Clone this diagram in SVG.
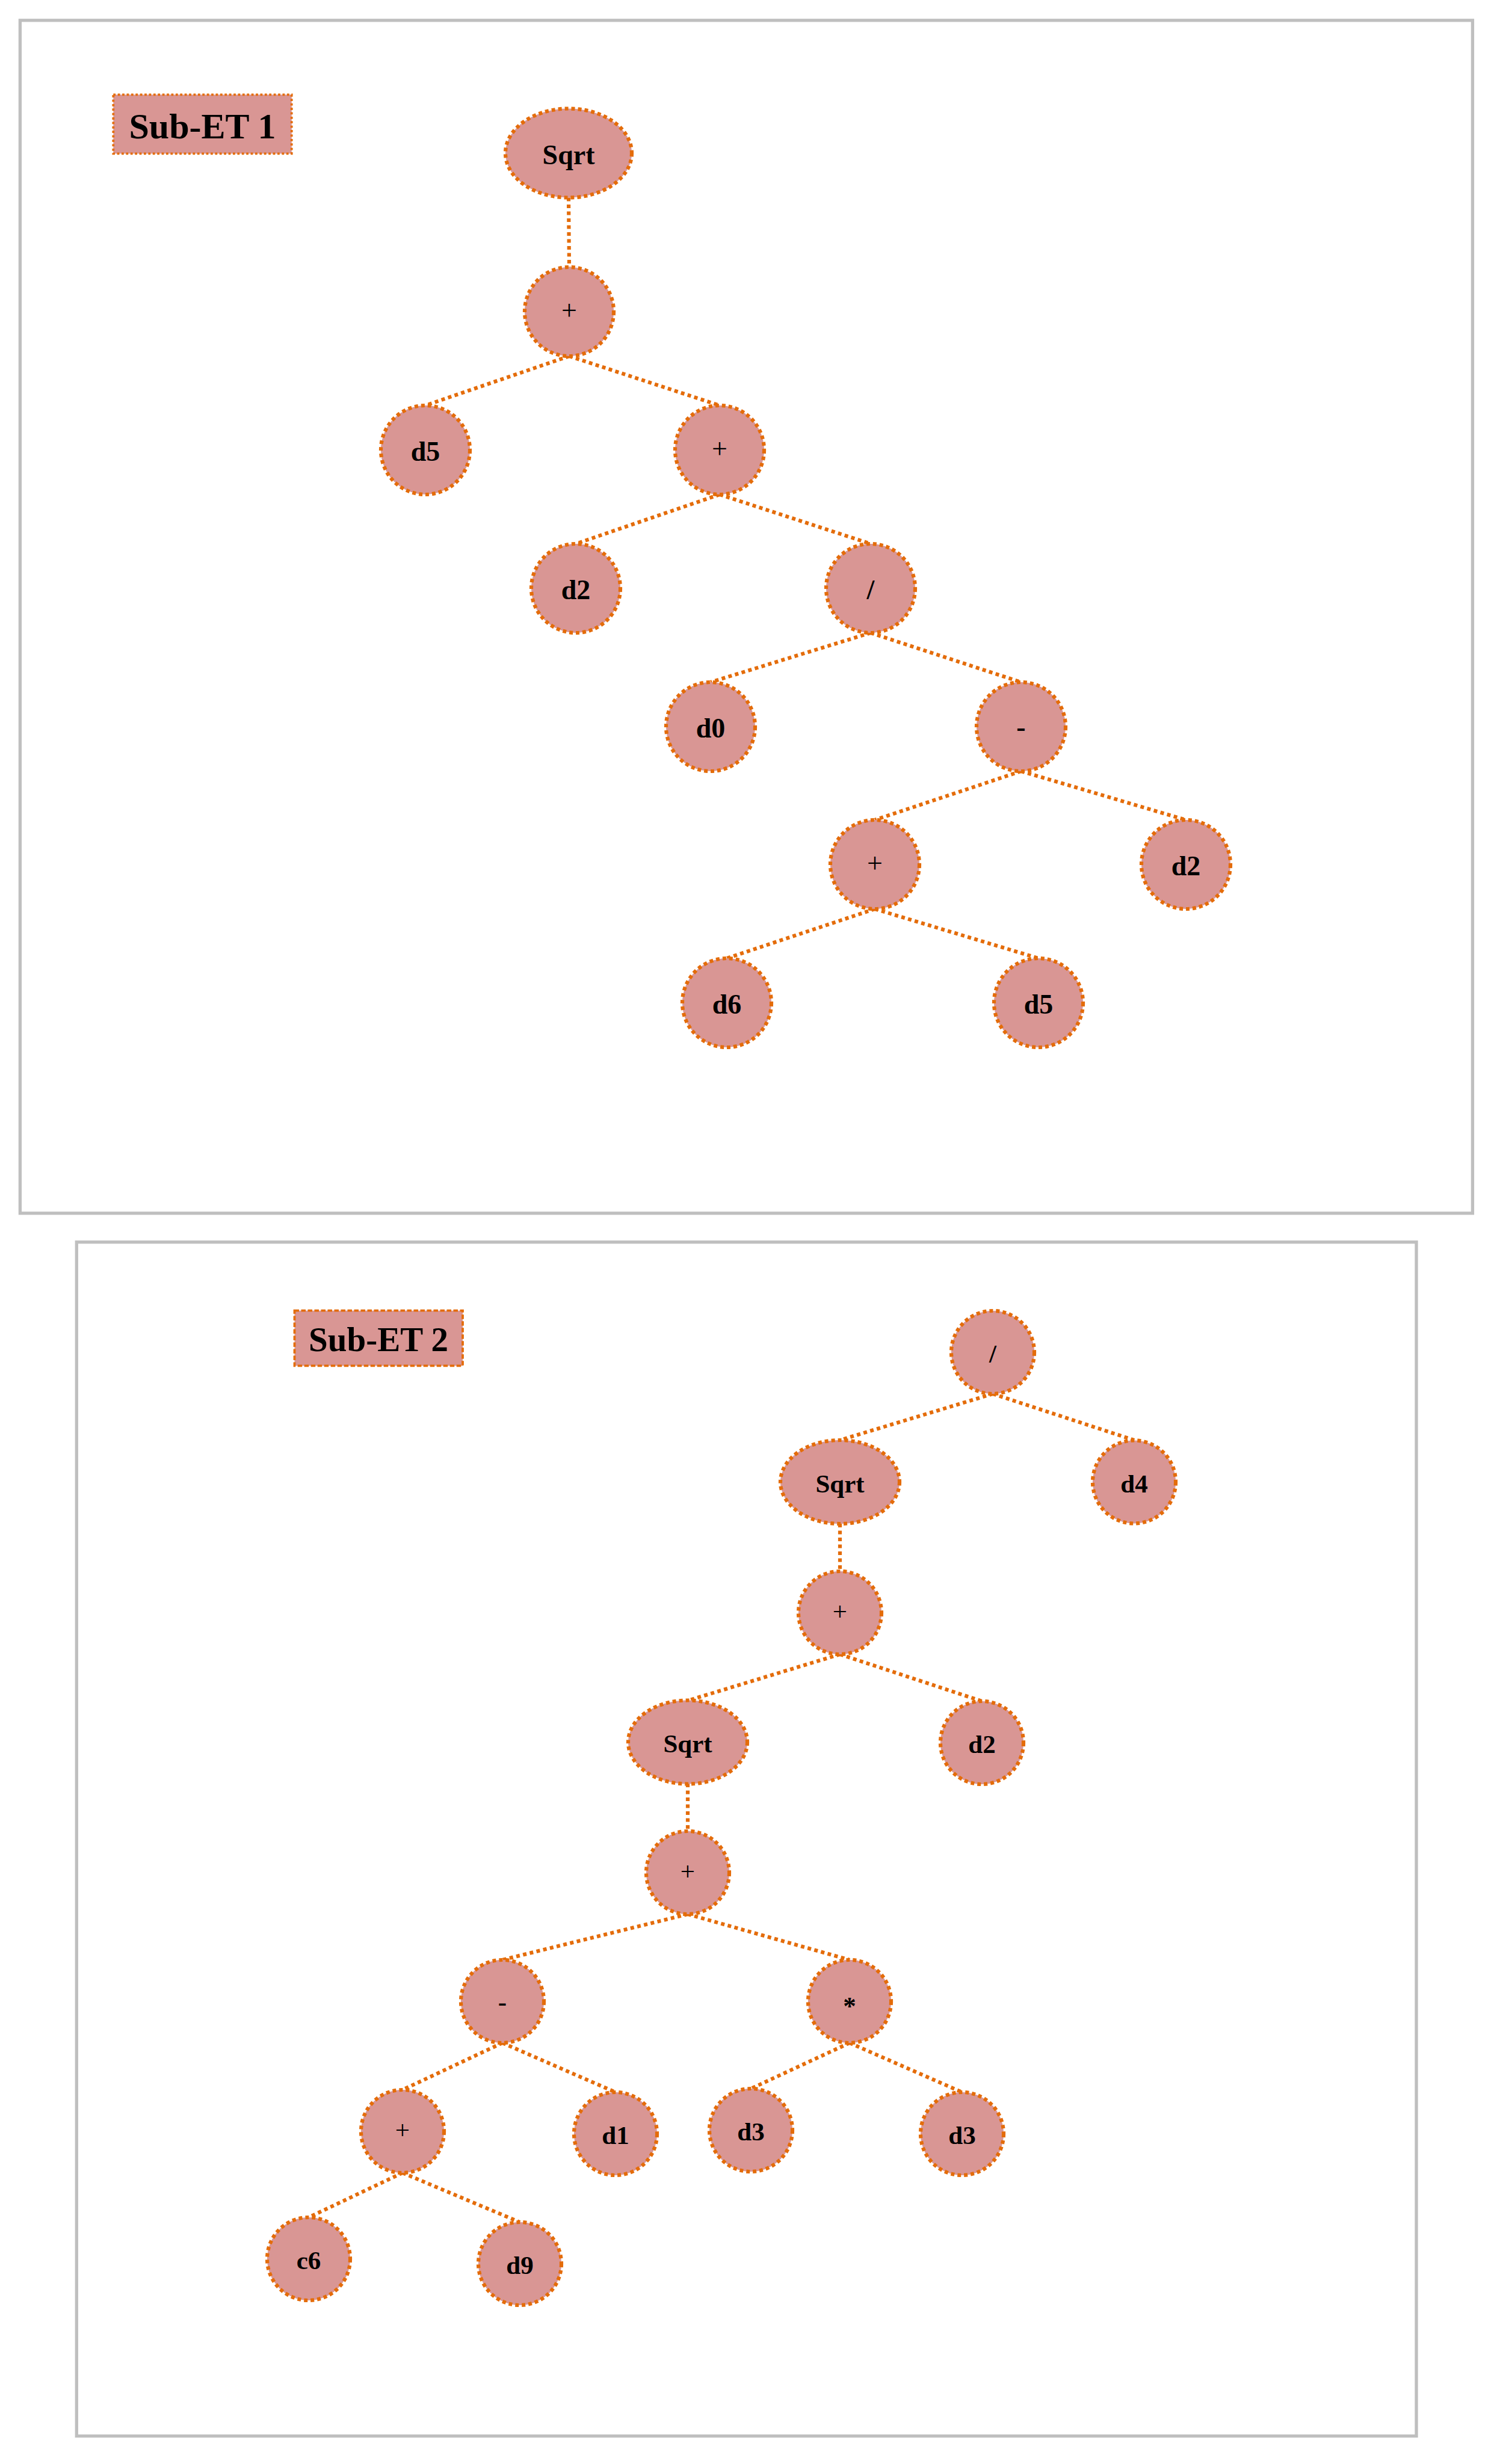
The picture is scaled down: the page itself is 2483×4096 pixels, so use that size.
<svg xmlns="http://www.w3.org/2000/svg" width="2483" height="4096" viewBox="0 0 2483 4096">
<style>
.frame{fill:none;stroke:#BFBFBF;stroke-width:5.3}
.node{fill:#D99694;stroke:#E46C0A;stroke-width:6.2;stroke-dasharray:6 5}
.edge{fill:none;stroke:#E46C0A;stroke-width:6.2;stroke-dasharray:6 5.5}
.lbl1{fill:#D99694;stroke:#E46C0A;stroke-width:3.8;stroke-dasharray:3.8 3.6}
.lbl2{fill:#D99694;stroke:#E46C0A;stroke-width:3.8;stroke-dasharray:7.5 3.5}
text{font-family:"Liberation Serif","Times New Roman",serif;font-weight:bold;fill:#000;text-anchor:middle}
.t1{font-size:46px}
.t2{font-size:43px}
.op{font-weight:normal}
</style>
<rect width="2483" height="4096" fill="#FFFFFF"/>
<rect class="frame" x="33.4" y="33.8" width="2414" height="1983"/>
<rect class="frame" x="127.3" y="2064.8" width="2226.7" height="1984.7"/>

<g id="connectors">
<line class="edge" x1="945" y1="328.5" x2="946" y2="444"/>
<line class="edge" x1="946" y1="592" x2="707" y2="674"/>
<line class="edge" x1="946" y1="592" x2="1196" y2="674"/>
<line class="edge" x1="1196" y1="822" x2="957" y2="904"/>
<line class="edge" x1="1196" y1="822" x2="1447" y2="904"/>
<line class="edge" x1="1447" y1="1052" x2="1181" y2="1134"/>
<line class="edge" x1="1447" y1="1052" x2="1697" y2="1134"/>
<line class="edge" x1="1697" y1="1282" x2="1454" y2="1363"/>
<line class="edge" x1="1697" y1="1282" x2="1971" y2="1363"/>
<line class="edge" x1="1454" y1="1511" x2="1208" y2="1593"/>
<line class="edge" x1="1454" y1="1511" x2="1726" y2="1593"/>

<line class="edge" x1="1650" y1="2317" x2="1396" y2="2394"/>
<line class="edge" x1="1650" y1="2317" x2="1885" y2="2394"/>
<line class="edge" x1="1396" y1="2533" x2="1396" y2="2612"/>
<line class="edge" x1="1396" y1="2750" x2="1143" y2="2827"/>
<line class="edge" x1="1396" y1="2750" x2="1632" y2="2828"/>
<line class="edge" x1="1143" y1="2965" x2="1143" y2="3044"/>
<line class="edge" x1="1143" y1="3182" x2="835" y2="3258"/>
<line class="edge" x1="1143" y1="3182" x2="1412" y2="3258"/>
<line class="edge" x1="835" y1="3396" x2="669" y2="3474"/>
<line class="edge" x1="835" y1="3396" x2="1023" y2="3478"/>
<line class="edge" x1="1412" y1="3396" x2="1248" y2="3472"/>
<line class="edge" x1="1412" y1="3396" x2="1599" y2="3478"/>
<line class="edge" x1="669" y1="3612" x2="513" y2="3686"/>
<line class="edge" x1="669" y1="3612" x2="864" y2="3694"/>
</g>

<g id="label-subet1">
<rect class="lbl1" x="188.3" y="157.3" width="296.4" height="98.1"/>
<text x="336.5" y="229.6" style="font-size:60px">Sub-ET 1</text>
</g>
<g id="label-subet2">
<rect class="lbl2" x="489.5" y="2178.7" width="279.5" height="91.7"/>
<text x="629" y="2245.5" style="font-size:57px">Sub-ET 2</text>
</g>

<g id="t1-sqrt"><ellipse class="node" cx="945" cy="254.5" rx="105" ry="74"/><text class="t1" x="945" y="272.5">Sqrt</text></g>
<g id="t1-plus1"><ellipse class="node" cx="946" cy="518" rx="74" ry="74"/><text class="t1 op" x="946" y="531">+</text></g>
<g id="t1-d5a"><ellipse class="node" cx="707" cy="748" rx="74" ry="74"/><text class="t1" x="707" y="766">d5</text></g>
<g id="t1-plus2"><ellipse class="node" cx="1196" cy="748" rx="74" ry="74"/><text class="t1 op" x="1196" y="761">+</text></g>
<g id="t1-d2a"><ellipse class="node" cx="957" cy="978" rx="74" ry="74"/><text class="t1" x="957" y="996">d2</text></g>
<g id="t1-div"><ellipse class="node" cx="1447" cy="978" rx="74" ry="74"/><text class="t1" x="1447" y="996">/</text></g>
<g id="t1-d0"><ellipse class="node" cx="1181" cy="1208" rx="74" ry="74"/><text class="t1" x="1181" y="1226">d0</text></g>
<g id="t1-minus"><ellipse class="node" cx="1697" cy="1208" rx="74" ry="74"/><text class="t1" x="1697" y="1224">-</text></g>
<g id="t1-plus3"><ellipse class="node" cx="1454" cy="1437" rx="74" ry="74"/><text class="t1 op" x="1454" y="1450">+</text></g>
<g id="t1-d2b"><ellipse class="node" cx="1971" cy="1437" rx="74" ry="74"/><text class="t1" x="1971" y="1455">d2</text></g>
<g id="t1-d6"><ellipse class="node" cx="1208" cy="1667" rx="74" ry="74"/><text class="t1" x="1208" y="1685">d6</text></g>
<g id="t1-d5b"><ellipse class="node" cx="1726" cy="1667" rx="74" ry="74"/><text class="t1" x="1726" y="1685">d5</text></g>

<g id="t2-div"><ellipse class="node" cx="1650" cy="2248" rx="69" ry="69"/><text class="t2" x="1650" y="2265">/</text></g>
<g id="t2-sqrt1"><ellipse class="node" cx="1396" cy="2463.5" rx="99" ry="69.5"/><text class="t2" x="1396" y="2480.5">Sqrt</text></g>
<g id="t2-d4"><ellipse class="node" cx="1885" cy="2463.5" rx="69" ry="69"/><text class="t2" x="1885" y="2480.5">d4</text></g>
<g id="t2-plus1"><ellipse class="node" cx="1396" cy="2681" rx="69" ry="69"/><text class="t2 op" x="1396" y="2693">+</text></g>
<g id="t2-sqrt2"><ellipse class="node" cx="1143" cy="2896" rx="99" ry="69.5"/><text class="t2" x="1143" y="2913">Sqrt</text></g>
<g id="t2-d2"><ellipse class="node" cx="1632" cy="2897" rx="69" ry="69"/><text class="t2" x="1632" y="2914">d2</text></g>
<g id="t2-plus2"><ellipse class="node" cx="1143" cy="3113" rx="69" ry="69"/><text class="t2 op" x="1143" y="3125">+</text></g>
<g id="t2-minus"><ellipse class="node" cx="835" cy="3327" rx="69" ry="69"/><text class="t2" x="835" y="3342">-</text></g>
<g id="t2-mul"><ellipse class="node" cx="1412" cy="3327" rx="69" ry="69"/><text class="t2" x="1412" y="3349">*</text></g>
<g id="t2-plus3"><ellipse class="node" cx="669" cy="3543" rx="69" ry="69"/><text class="t2 op" x="669" y="3555">+</text></g>
<g id="t2-d1"><ellipse class="node" cx="1023" cy="3547" rx="69" ry="69"/><text class="t2" x="1023" y="3564">d1</text></g>
<g id="t2-d3a"><ellipse class="node" cx="1248" cy="3541" rx="69" ry="69"/><text class="t2" x="1248" y="3558">d3</text></g>
<g id="t2-d3b"><ellipse class="node" cx="1599" cy="3547" rx="69" ry="69"/><text class="t2" x="1599" y="3564">d3</text></g>
<g id="t2-c6"><ellipse class="node" cx="513" cy="3755" rx="69" ry="69"/><text class="t2" x="513" y="3772">c6</text></g>
<g id="t2-d9"><ellipse class="node" cx="864" cy="3763" rx="69" ry="69"/><text class="t2" x="864" y="3780">d9</text></g>
</svg>
